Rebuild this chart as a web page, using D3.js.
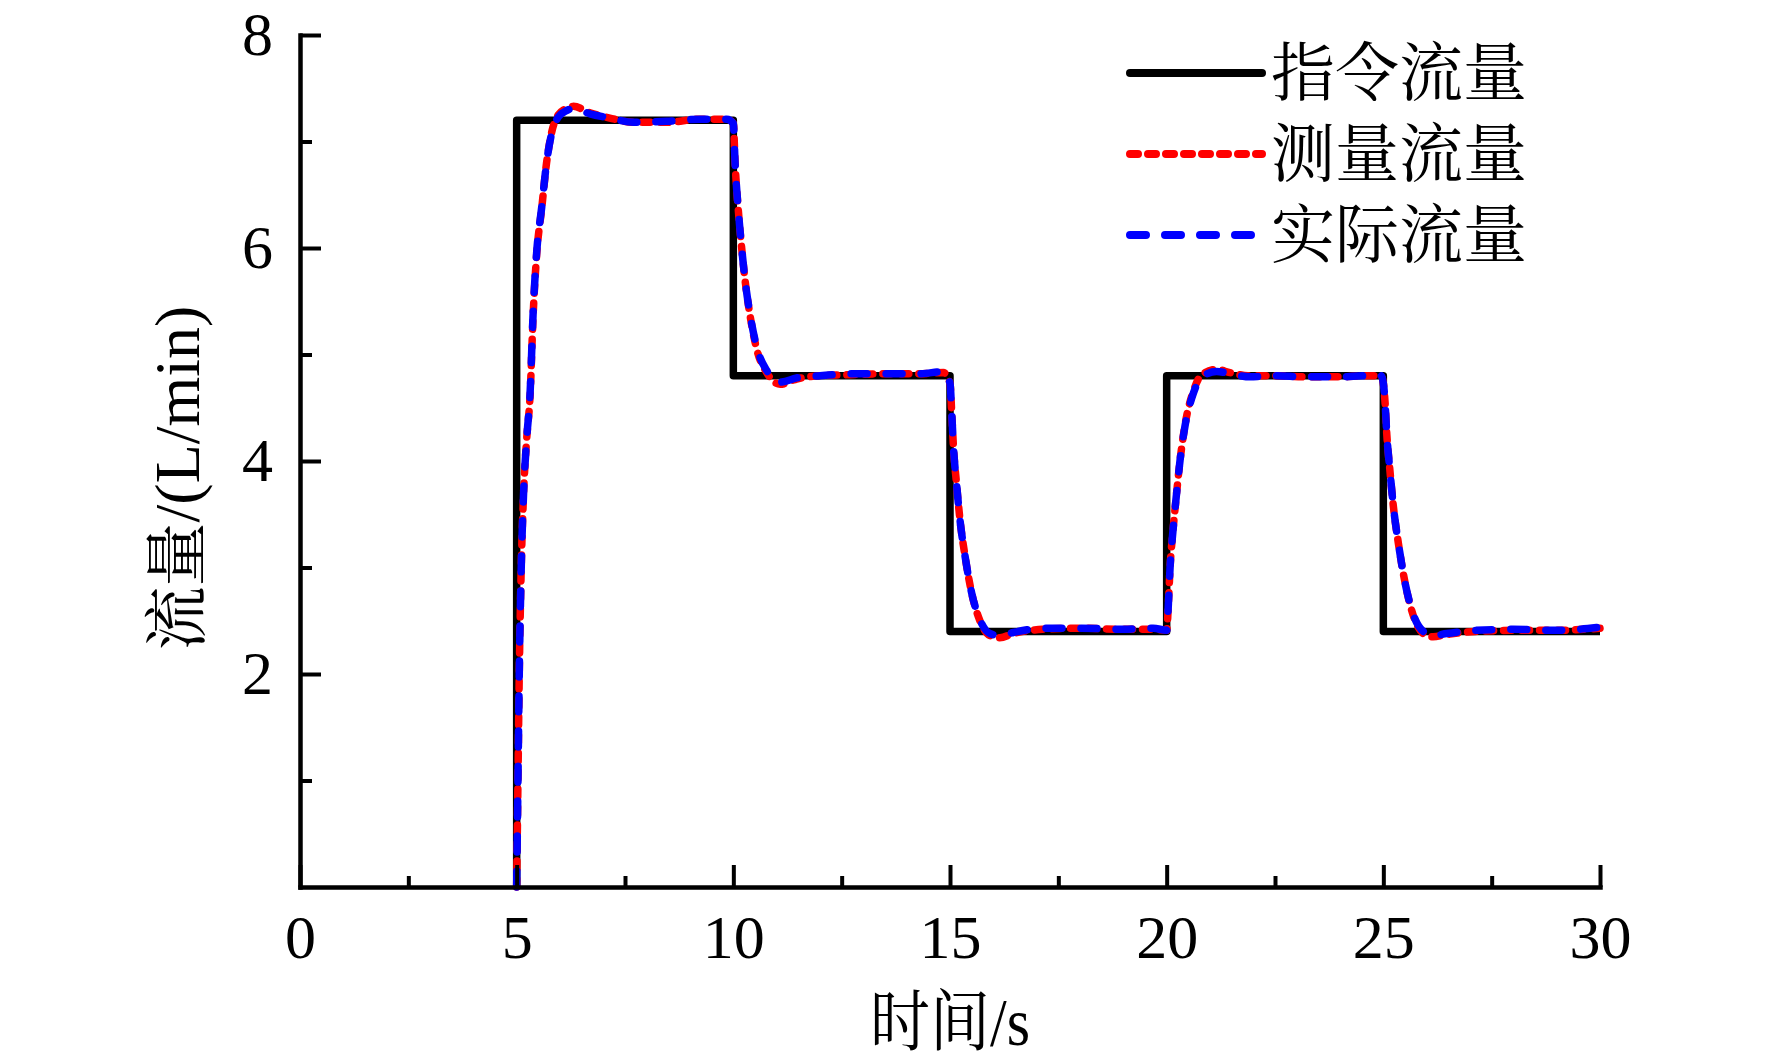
<!DOCTYPE html>
<html>
<head>
<meta charset="utf-8">
<script src="https://cdn.jsdelivr.net/npm/d3@7"></script>
<style>
  body { margin: 0; background: #fff; }
  text { font-family: "Liberation Serif", "Noto Serif CJK SC", "Noto Sans CJK SC", serif; fill: #000; }
</style>
</head>
<body>
<svg id="chart"></svg>
<script>
// command (step) flow, L/min
const cmdTime = [5, 5, 10, 10, 15, 15, 20, 20, 25, 25, 30];
const cmdFlow = [0, 7.2, 7.2, 4.8, 4.8, 2.4, 2.4, 4.8, 4.8, 2.4, 2.4];

// sample times for measured / actual flow, s
const sampleTime = [
  5.00, 5.03, 5.06, 5.10, 5.16, 5.23, 5.31, 5.38, 5.46, 5.58, 5.69, 5.81, 5.96, 6.15, 6.31, 6.69,
  7.15, 7.69, 8.46, 9.23, 9.85,
  10.00, 10.04, 10.12, 10.19, 10.27, 10.38, 10.54, 10.77, 11.08, 11.46, 12.0, 12.7, 13.5, 14.3, 14.85,
  15.00, 15.04, 15.08, 15.15, 15.23, 15.35, 15.50, 15.69, 15.92, 16.15, 16.46, 17.15, 18.0, 19.0, 19.69,
  20.00, 20.04, 20.08, 20.14, 20.22, 20.31, 20.42, 20.62, 20.81, 21.15, 21.46, 21.92, 22.5, 23.2, 24.0, 24.6, 24.95,
  25.00, 25.04, 25.08, 25.15, 25.23, 25.35, 25.50, 25.69, 25.92, 26.15, 26.46, 27.15, 28.0, 29.0, 30.0
];

// 测量流量 (red dotted)
const measuredFlow = [
  0.0, 1.0, 2.0, 2.9, 3.7, 4.2, 4.62, 5.37, 5.93, 6.38, 6.80, 7.09, 7.25, 7.31, 7.33, 7.27,
  7.22, 7.18, 7.18, 7.21, 7.21,
  7.17, 6.80, 6.33, 6.01, 5.70, 5.38, 5.05, 4.83, 4.72, 4.77, 4.80, 4.81, 4.82, 4.82, 4.83,
  4.73, 4.45, 4.13, 3.79, 3.45, 3.10, 2.76, 2.50, 2.36, 2.34, 2.38, 2.42, 2.43, 2.42, 2.42,
  2.41, 2.66, 3.01, 3.32, 3.66, 4.01, 4.33, 4.66, 4.81, 4.86, 4.83, 4.80, 4.80, 4.79, 4.79, 4.80, 4.80,
  4.73, 4.55, 4.25, 3.92, 3.58, 3.22, 2.86, 2.55, 2.38, 2.35, 2.37, 2.40, 2.41, 2.41, 2.43
];

// 实际流量 (blue dashed)
const actualFlow = [
  0.0, 1.0, 2.0, 2.9, 3.7, 4.2, 4.64, 5.39, 5.95, 6.39, 6.80, 7.08, 7.23, 7.29, 7.31, 7.26,
  7.22, 7.18, 7.19, 7.21, 7.21,
  7.17, 6.80, 6.33, 6.01, 5.70, 5.39, 5.07, 4.85, 4.74, 4.78, 4.80, 4.82, 4.82, 4.82, 4.84,
  4.73, 4.45, 4.13, 3.79, 3.45, 3.10, 2.76, 2.51, 2.38, 2.36, 2.39, 2.43, 2.43, 2.42, 2.43,
  2.41, 2.66, 3.01, 3.32, 3.66, 4.01, 4.32, 4.64, 4.79, 4.84, 4.82, 4.79, 4.80, 4.79, 4.79, 4.80, 4.80,
  4.73, 4.55, 4.25, 3.92, 3.58, 3.22, 2.86, 2.56, 2.40, 2.36, 2.38, 2.41, 2.42, 2.41, 2.44
];

const xMajorTicks = [0, 5, 10, 15, 20, 25, 30];
const xMinorTicks = [2.5, 7.5, 12.5, 17.5, 22.5, 27.5];
const yMajorTicks = [2, 4, 6, 8];
const yMinorTicks = [1, 3, 5, 7];

const legendLabels = ['指令流量', '测量流量', '实际流量'];
const xTitle = '时间/s';
const yTitle = '流量/(L/min)';

const width = 1772, height = 1063;
const plot = {left: 300, right: 1600, top: 35, bottom: 887};

const svg = d3.select('#chart')
    .attr('width', width)
    .attr('height', height);

const x = d3.scaleLinear().domain([0, 30]).range([plot.left, plot.right]);
const y = d3.scaleLinear().domain([0, 8]).range([plot.bottom, plot.top]);

// series styles
const styles = [
  {color: '#000', width: 7.5, dash: null},
  {color: '#ff0000', width: 7.5, dash: '8,10'},
  {color: '#0000ff', width: 7.5, dash: '16,19'}
];

// build point lists from the arrays
const cmdData = cmdTime.map((t, i) => ({t: t, v: cmdFlow[i]}));
const measuredData = sampleTime.map((t, i) => ({t: t, v: measuredFlow[i]}));
const actualData = sampleTime.map((t, i) => ({t: t, v: actualFlow[i]}));

const stepLine = d3.line()
    .x(d => x(d.t))
    .y(d => y(d.v));

const smoothLine = d3.line()
    .x(d => x(d.t))
    .y(d => y(d.v))
    .curve(d3.curveMonotoneX);

// series
svg.append('path')
    .datum(cmdData)
    .attr('fill', 'none')
    .attr('stroke', styles[0].color)
    .attr('stroke-width', styles[0].width)
    .attr('stroke-linejoin', 'round')
    .attr('d', stepLine);

[measuredData, actualData].forEach((data, i) => {
  const s = styles[i + 1];
  svg.append('path')
      .datum(data)
      .attr('fill', 'none')
      .attr('stroke', s.color)
      .attr('stroke-width', s.width)
      .attr('stroke-dasharray', s.dash)
      .attr('stroke-linecap', 'round')
      .attr('stroke-linejoin', 'round')
      .attr('d', smoothLine);
});

// axes: major ticks with labels, minor ticks without
svg.append('g')
    .attr('transform', `translate(0,${plot.bottom})`)
    .call(d3.axisBottom(x).tickValues(xMajorTicks).tickSize(-22).tickSizeOuter(0).tickPadding(27));

svg.append('g')
    .attr('transform', `translate(0,${plot.bottom})`)
    .call(d3.axisBottom(x).tickValues(xMinorTicks).tickSize(-11).tickFormat(''))
    .select('.domain').remove();

svg.append('g')
    .attr('transform', `translate(${plot.left},0)`)
    .call(d3.axisLeft(y).tickValues(yMajorTicks).tickSize(-21).tickSizeOuter(0).tickPadding(27));

svg.append('g')
    .attr('transform', `translate(${plot.left},0)`)
    .call(d3.axisLeft(y).tickValues(yMinorTicks).tickSize(-12).tickFormat(''))
    .select('.domain').remove();

svg.selectAll('.domain')
    .attr('stroke', '#000')
    .attr('stroke-width', 4.5)
    .attr('stroke-linecap', 'square');

svg.selectAll('.tick line')
    .attr('stroke', '#000')
    .attr('stroke-width', 4);

svg.selectAll('.tick text')
    .attr('font-size', 62)
    .attr('font-family', null);

// axis titles
svg.append('text')
    .attr('transform', `translate(${(plot.left + plot.right) / 2},${1022}) scale(1,1.12)`)
    .attr('text-anchor', 'middle')
    .attr('dominant-baseline', 'central')
    .attr('font-size', 60)
    .text(xTitle);

svg.append('text')
    .attr('transform', `translate(177,${478}) rotate(-90)`)
    .attr('text-anchor', 'middle')
    .attr('dominant-baseline', 'central')
    .attr('font-size', 64)
    .text(yTitle);

// legend
const legend = svg.append('g')
    .attr('transform', 'translate(1130,73)');

const rows = legend.selectAll('g')
    .data(legendLabels)
  .enter().append('g')
    .attr('transform', (d, i) => `translate(0,${i * 81})`);

rows.append('line')
    .attr('x1', 0)
    .attr('x2', 132)
    .attr('stroke', (d, i) => styles[i].color)
    .attr('stroke-width', (d, i) => styles[i].width + 0.5)
    .attr('stroke-dasharray', (d, i) => styles[i].dash)
    .attr('stroke-linecap', 'round');

rows.append('text')
    .attr('x', 141)
    .attr('dominant-baseline', 'central')
    .attr('font-size', 64)
    .text(d => d);
</script>
</body>
</html>
